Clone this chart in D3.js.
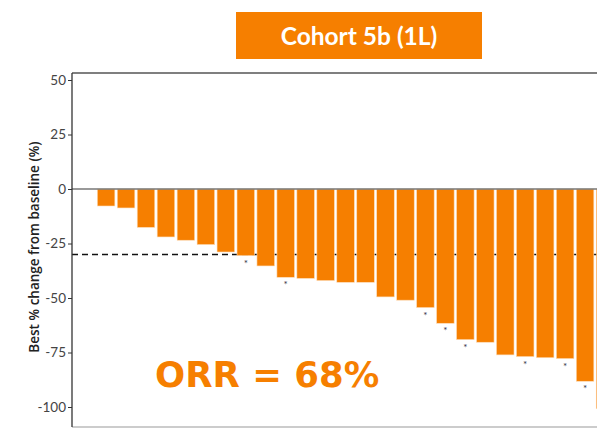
<!DOCTYPE html>
<html>
<head>
<meta charset="utf-8">
<script src="https://cdn.jsdelivr.net/npm/d3@7"></script>
<style>
  body { margin: 0; background: #fff; }
  svg { display: block; font-family: Lato, "Open Sans", sans-serif; }
</style>
</head>
<body>
<svg id="chart" width="597" height="428"></svg>
<script>
// best % change per patient, sorted
const patients = d3.range(1, 27).map(i => "P" + i);
const bestChange = [-7.8, -8.7, -17.6, -22, -23.5, -25.5, -28.9, -30.6, -35.3, -40.5,
    -41, -42, -42.8, -42.8, -49.5, -51, -54.4, -61.6, -69.1, -70.3,
    -76.1, -76.9, -77.4, -77.8, -88.2, -100.8];
// patients marked with an asterisk under the bar
const starred = ["P8", "P10", "P17", "P18", "P19", "P22", "P24", "P25"];
const yTicks = [50, 25, 0, -25, -50, -75, -100];
const threshold = -30;
const title = "Cohort 5b (1L)";
const orrLabel = "ORR = 68%";

const orange = "#f67f00";
const W = 597, H = 428;
const plotLeft = 72, plotTop = 73, plotBottom = 427;

const svg = d3.select("#chart");

// title box
svg.append("rect")
    .attr("x", 236).attr("y", 12)
    .attr("width", 246).attr("height", 47)
    .attr("fill", orange);
svg.append("text")
    .attr("x", 359).attr("y", 45)
    .attr("text-anchor", "middle")
    .attr("fill", "#fff")
    .attr("font-size", 24.5)
    .attr("font-weight", "bold")
    .text(title);

const y = d3.scaleLinear()
    .domain([-100, 50])
    .range([407, 80]);

const x = d3.scaleBand()
    .domain(patients)
    .range([97.3, 613.8])
    .paddingInner(0.12)
    .paddingOuter(0);

const data = patients.map((p, i) => ({id: p, value: bestChange[i], star: starred.includes(p)}));

// frame lines
svg.append("line")
    .attr("x1", plotLeft).attr("x2", W)
    .attr("y1", plotTop).attr("y2", plotTop)
    .attr("stroke", "#555").attr("stroke-width", 1.5);
svg.append("line")
    .attr("x1", plotLeft).attr("x2", W)
    .attr("y1", plotBottom).attr("y2", plotBottom)
    .attr("stroke", "#bbb").attr("stroke-width", 1.5);

// threshold line sits behind the bars
svg.append("line")
    .attr("x1", plotLeft).attr("x2", W)
    .attr("y1", y(threshold)).attr("y2", y(threshold))
    .attr("stroke", "#111").attr("stroke-width", 1.5)
    .attr("stroke-dasharray", "6,4");

svg.append("g")
    .selectAll("rect")
    .data(data)
    .join("rect")
    .attr("x", d => x(d.id))
    .attr("y", y(0))
    .attr("width", x.bandwidth())
    .attr("height", d => y(d.value) - y(0))
    .attr("fill", orange)
    .attr("stroke", "#fddcb8")
    .attr("stroke-width", 0.6);

svg.append("g")
    .selectAll("text")
    .data(data.filter(d => d.star))
    .join("text")
    .attr("x", d => x(d.id) + x.bandwidth() / 2)
    .attr("y", d => y(d.value) + 11)
    .attr("text-anchor", "middle")
    .attr("font-size", 10)
    .attr("fill", "#334")
    .text("*");

// zero line
svg.append("line")
    .attr("x1", plotLeft).attr("x2", W)
    .attr("y1", y(0)).attr("y2", y(0))
    .attr("stroke", "#777").attr("stroke-width", 1.5);

// y axis
const yAxis = svg.append("g")
    .attr("transform", `translate(${plotLeft},0)`)
    .call(d3.axisLeft(y).tickValues(yTicks).tickFormat(d => String(d))
        .tickSize(4).tickPadding(2).tickSizeOuter(0));
yAxis.select(".domain").remove();
yAxis.append("line")
    .attr("y1", plotTop).attr("y2", plotBottom)
    .attr("stroke", "#333").attr("stroke-width", 1.3);
yAxis.selectAll(".tick line").attr("stroke", "#333");
yAxis.selectAll(".tick text")
    .attr("font-size", 13.5)
    .attr("fill", "#444")
    .attr("font-family", "Lato, sans-serif");

svg.append("text")
    .attr("transform", `translate(39,247) rotate(-90)`)
    .attr("text-anchor", "middle")
    .attr("font-size", 13.5)
    .attr("font-weight", 600)
    .attr("font-family", "'Open Sans', sans-serif")
    .attr("fill", "#222")
    .text("Best % change from baseline (%)");

svg.append("text")
    .attr("x", 155).attr("y", 387)
    .attr("fill", orange)
    .attr("font-size", 35.5)
    .attr("font-weight", "bold")
    .attr("font-family", "'DejaVu Sans', sans-serif")
    .text(orrLabel);
</script>
</body>
</html>
